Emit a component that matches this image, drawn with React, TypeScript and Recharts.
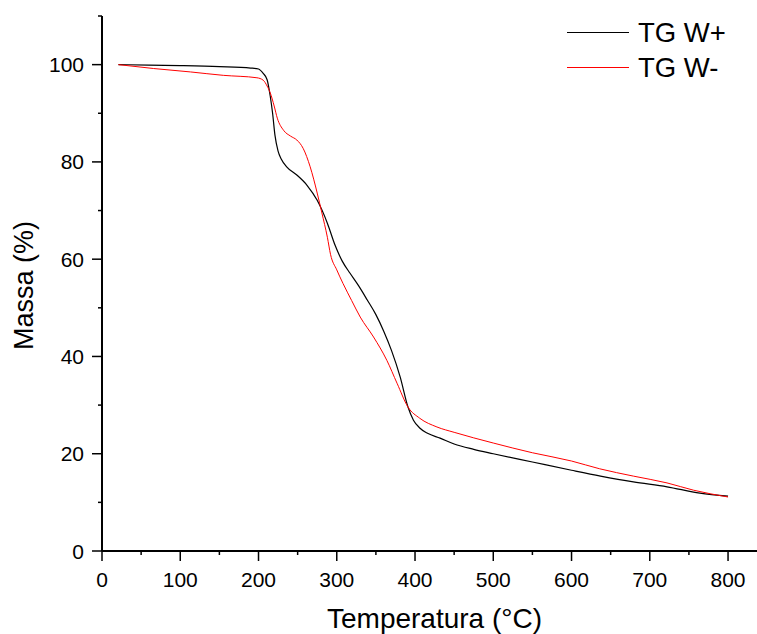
import { LineChart, Line, XAxis, YAxis, Legend } from "recharts";

const FONT = '"Liberation Sans", Arial, sans-serif';

// TG W+ (black)
const tgPlusTemp = [21, 60, 100, 150, 190, 200, 206, 211, 215, 218, 221, 225, 229, 236, 249, 262, 275, 288, 298, 307, 317, 328, 339, 350, 360, 370, 381, 391, 398, 406, 416, 432, 450, 475, 500, 550, 600, 637, 679, 722, 764, 800];
const tgPlusMass = [100, 99.9, 99.8, 99.6, 99.3, 99.1, 98.2, 96.9, 93.5, 90, 85.5, 82.2, 80.6, 79, 77.3, 75.2, 72.1, 67.4, 62.8, 59.6, 57.1, 54.5, 51.6, 48.6, 45.2, 41.2, 35.8, 29.6, 26.9, 25.3, 24.2, 23.2, 22, 20.9, 20, 18.3, 16.6, 15.4, 14.2, 13.2, 11.9, 11.3];

// TG W- (red)
const tgMinusTemp = [21, 66, 113, 155, 198, 206, 211, 215, 220, 224, 232, 241, 249, 257, 266, 275, 281, 288, 292, 300, 308, 319, 330, 347, 364, 377, 391, 406, 428, 450, 500, 550, 600, 636, 679, 722, 756, 800];
const tgMinusMass = [100, 99.2, 98.5, 97.8, 97.3, 96.8, 95.6, 94.2, 91.5, 89, 86.5, 85.3, 84.5, 82.8, 79, 73.6, 69.5, 64.5, 61, 57.8, 55, 51.5, 48.1, 44, 39.2, 34.5, 29.6, 27.3, 25.5, 24.4, 22.2, 20.2, 18.5, 16.9, 15.4, 14, 12.5, 11.1];

const xTicks = [0, 50, 100, 150, 200, 250, 300, 350, 400, 450, 500, 550, 600, 650, 700, 750, 800];
const yTicks = [0, 10, 20, 30, 40, 50, 60, 70, 80, 90, 100, 110];

const plusData = tgPlusTemp.map((t, i) => ({ t, m: tgPlusMass[i] }));
const minusData = tgMinusTemp.map((t, i) => ({ t, m: tgMinusMass[i] }));

function XTick({ x, y, payload }: any) {
  const major = payload.value % 100 === 0;
  return (
    <g>
      <line x1={x} y1={y} x2={x} y2={y + (major ? 10 : 4)} stroke="#000" strokeWidth={1.5} />
      {major && (
        <text x={x} y={y + 36} textAnchor="middle" fontSize={21} fontFamily={FONT} fill="#000">
          {payload.value}
        </text>
      )}
    </g>
  );
}

function YTick({ x, y, payload }: any) {
  const major = payload.value % 20 === 0;
  return (
    <g>
      <line x1={x} y1={y} x2={x - (major ? 10 : 4)} y2={y} stroke="#000" strokeWidth={1.5} />
      {major && (
        <text x={x - 18} y={y + 7.5} textAnchor="end" fontSize={21} fontFamily={FONT} fill="#000">
          {payload.value}
        </text>
      )}
    </g>
  );
}

function LegendBox({ payload }: any) {
  return (
    <div style={{ fontFamily: FONT }}>
      {(payload ?? []).map((e: any) => (
        <div key={e.value} style={{ display: "flex", alignItems: "center", height: 35 }}>
          <div style={{ width: 62, height: 1, background: e.color, marginRight: 9 }} />
          <span style={{ fontSize: 27.5, color: "#000", lineHeight: "35px" }}>{e.value}</span>
        </div>
      ))}
    </div>
  );
}

export default function App() {
  return (
    <div>
      <style>{`body{margin:0}`}</style>
      <LineChart width={757} height={634} margin={{ top: 16, right: 0, left: 0, bottom: 0 }}>
        <XAxis
          type="number"
          dataKey="t"
          domain={[0, 837]}
          ticks={xTicks}
          interval={0}
          height={83}
          tickSize={0}
          tickMargin={0}
          tickLine={false}
          axisLine={{ stroke: "#000", strokeWidth: 2 }}
          tick={<XTick />}
          allowDuplicatedCategory={false}
          label={({ viewBox }: any) => (
            <text
              x={viewBox.x + viewBox.width / 2 + 5}
              y={viewBox.y + 77}
              textAnchor="middle"
              fontSize={28}
              fontFamily={FONT}
              fill="#000"
            >
              Temperatura (°C)
            </text>
          )}
        />
        <YAxis
          type="number"
          domain={[0, 110]}
          ticks={yTicks}
          interval={0}
          width={102}
          tickSize={0}
          tickMargin={0}
          tickLine={false}
          axisLine={{ stroke: "#000", strokeWidth: 2 }}
          tick={<YTick />}
          label={({ viewBox }: any) => {
            const cx = 33;
            const cy = viewBox.y + viewBox.height / 2 + 2;
            return (
              <text
                x={cx}
                y={cy}
                transform={`rotate(-90, ${cx}, ${cy})`}
                textAnchor="middle"
                fontSize={27}
                fontFamily={FONT}
                fill="#000"
              >
                Massa (%)
              </text>
            );
          }}
        />
        <Legend
          layout="vertical"
          align="center"
          verticalAlign="middle"
          content={<LegendBox />}
          wrapperStyle={{ left: 567, top: 15, width: 190 }}
        />
        <Line
          data={plusData}
          dataKey="m"
          name="TG W+"
          type="monotone"
          stroke="#000000"
          strokeWidth={1.2}
          dot={false}
          isAnimationActive={false}
        />
        <Line
          data={minusData}
          dataKey="m"
          name="TG W-"
          type="monotone"
          stroke="#ff0000"
          strokeWidth={1}
          dot={false}
          isAnimationActive={false}
        />
      </LineChart>
    </div>
  );
}
